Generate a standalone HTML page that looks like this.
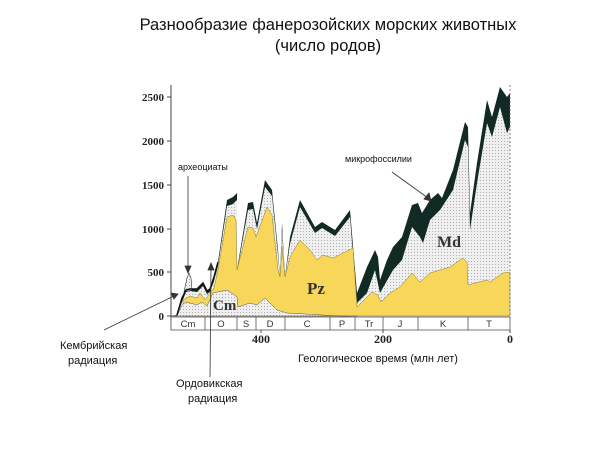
<!DOCTYPE html>
<html><head><meta charset="utf-8"><style>
body{margin:0;background:#fff;}
svg{display:block;}
.s{font-family:"Liberation Sans",sans-serif;}
.b{font-family:"Liberation Serif",serif;font-weight:bold;}
</style></head><body>
<svg width="600" height="452" viewBox="0 0 600 452" xmlns="http://www.w3.org/2000/svg">
<defs>
<pattern id="dots" width="3" height="3" patternUnits="userSpaceOnUse">
<rect width="3" height="3" fill="#efefef"/><rect width="1" height="1" fill="#b0b0b0"/>
</pattern>
</defs>
<text class="s" x="328" y="30" font-size="16.5" text-anchor="middle" fill="#111">Разнообразие фанерозойских морских животных</text>
<text class="s" x="328" y="51" font-size="16.5" text-anchor="middle" fill="#111">(число родов)</text>

<!-- dark top band -->
<polygon fill="#122a24" points="170,316 177,315 182,298 186,290 190,289 197,289 200,286 203,283 207,291 210,289 214,277 218,262 227,200 233,197 237,193 237,270 248,203 253,202 257,223 265,180 272,190 278,250 280,277 282,223 285,277 290,237 300,200 315,227 322,222 335,230 350,210 357,293 367,267 375,250 378,257 380,280 387,260 393,247 402,237 412,205 418,203 422,213 430,200 438,193 442,198 453,170 465,122 468,127 470,213 477,163 487,100 492,117 500,87 507,97 510,93 510,316"/>
<!-- grey Md / background -->
<polygon fill="url(#dots)" points="170,316 177,316 182,302 186,292 190,291 197,292 200,289 203,286 207,294 210,292 214,281 218,266 227,206 233,204 237,200 237,272 248,210 253,209 257,229 265,187 272,196 278,255 280,278 282,230 285,278 290,244 300,207 315,233 322,228 335,236 350,217 357,303 367,293 375,270 380,293 393,270 402,260 412,227 420,237 423,243 430,220 440,210 453,190 465,140 468,147 470,230 477,183 487,123 492,137 500,107 507,133 510,127 510,316"/>
<!-- archaeocyath spike -->
<polygon fill="url(#dots)" stroke="#333" stroke-width="0.6" points="184,292 187,278 189,273 191,278 192,290"/>
<!-- yellow Pz -->
<polygon fill="#f8d65a" stroke="#8a7a30" stroke-width="0.5" points="183,316 183,300 190,296 197,298 200,293 205,300 210,293 214,288 218,270 227,217 233,215 236,220 237,270 248,227 253,228 256,237 267,207 272,215 278,270 280,277 282,247 285,277 290,257 300,240 310,250 317,260 323,255 333,258 353,248 357,307 372,292 378,295 381,302 390,293 400,287 412,273 420,282 430,273 440,270 450,267 463,258 467,262 468,285 475,283 487,280 490,282 503,273 510,272 510,316"/>
<!-- Cm grey -->
<polygon fill="url(#dots)" stroke="#555" stroke-width="0.5" points="170,316 177,316 182,305 186,302 190,303 197,305 202,302 207,306 213,293 227,290 237,297 238,307 250,303 257,305 265,298 277,310 287,313 357,317 357,316"/>
<polyline fill="none" stroke="#111" stroke-width="1.5" points="177,315 182,298 186,290 190,289 197,289 200,286 203,283 207,291 210,289 214,277 218,262"/>
<!-- axes -->
<line x1="171" y1="85" x2="171" y2="330" stroke="#444" stroke-width="1"/>
<line x1="510" y1="85" x2="510" y2="316" stroke="#666" stroke-width="0.8" stroke-dasharray="2,2"/>
<g stroke="#444" stroke-width="1">
<line x1="167" y1="316" x2="171" y2="316"/><line x1="167" y1="272" x2="171" y2="272"/><line x1="167" y1="229" x2="171" y2="229"/><line x1="167" y1="185" x2="171" y2="185"/><line x1="167" y1="141" x2="171" y2="141"/><line x1="167" y1="97" x2="171" y2="97"/>
<line x1="261" y1="330" x2="261" y2="333"/><line x1="383" y1="330" x2="383" y2="333"/><line x1="510" y1="330" x2="510" y2="333"/>
</g>
<g class="b" font-size="11" text-anchor="end" fill="#222">
<text x="164" y="320">0</text><text x="164" y="276">500</text><text x="164" y="233">1000</text><text x="164" y="189">1500</text><text x="164" y="145">2000</text><text x="164" y="101">2500</text>
</g>
<g class="b" font-size="12" text-anchor="middle" fill="#222">
<text x="261" y="343">400</text><text x="383" y="343">200</text><text x="510" y="343">0</text>
</g>
<!-- time scale -->
<rect x="171" y="317" width="339" height="13" fill="#fff" stroke="#555" stroke-width="0.8"/>
<g stroke="#555" stroke-width="0.8">
<line x1="205" y1="317" x2="205" y2="330"/><line x1="237" y1="317" x2="237" y2="330"/><line x1="256" y1="317" x2="256" y2="330"/><line x1="285" y1="317" x2="285" y2="330"/><line x1="330" y1="317" x2="330" y2="330"/><line x1="355" y1="317" x2="355" y2="330"/><line x1="383" y1="317" x2="383" y2="330"/><line x1="418" y1="317" x2="418" y2="330"/><line x1="468" y1="317" x2="468" y2="330"/>
</g>
<g class="s" font-size="9.5" text-anchor="middle" fill="#333">
<text x="188" y="327">Cm</text><text x="221" y="327">O</text><text x="246" y="327">S</text><text x="270" y="327">D</text><text x="307" y="327">C</text><text x="342" y="327">P</text><text x="369" y="327">Tr</text><text x="400" y="327">J</text><text x="443" y="327">K</text><text x="489" y="327">T</text>
</g>
<g class="b" fill="#333">
<text x="213" y="310" font-size="15">Cm</text>
<text x="307" y="294" font-size="17">Pz</text>
<text x="437" y="247" font-size="16">Md</text>
</g>
<g class="s" fill="#111">
<text x="178" y="170" font-size="9">археоциаты</text>
<text x="345" y="162" font-size="9">микрофоссилии</text>
<text x="60" y="349" font-size="11">Кембрийская</text>
<text x="68" y="364" font-size="11">радиация</text>
<text x="176" y="387" font-size="11">Ордовикская</text>
<text x="188" y="402" font-size="11">радиация</text>
<text x="298" y="362" font-size="11">Геологическое время (млн лет)</text>
</g>
<g stroke="#333" stroke-width="0.8" fill="#333">
<line x1="188" y1="176" x2="188" y2="270"/><polygon points="185,266 191,266 188,273"/>
<line x1="392" y1="172" x2="428" y2="198"/><polygon points="424,199 429,193 431,201"/>
<line x1="104" y1="330" x2="176" y2="295"/><polygon points="171,293 174,299 178,294"/>
<line x1="210" y1="377" x2="211" y2="265"/><polygon points="208,270 214,270 211,263"/>
</g>
</svg>
</body></html>
